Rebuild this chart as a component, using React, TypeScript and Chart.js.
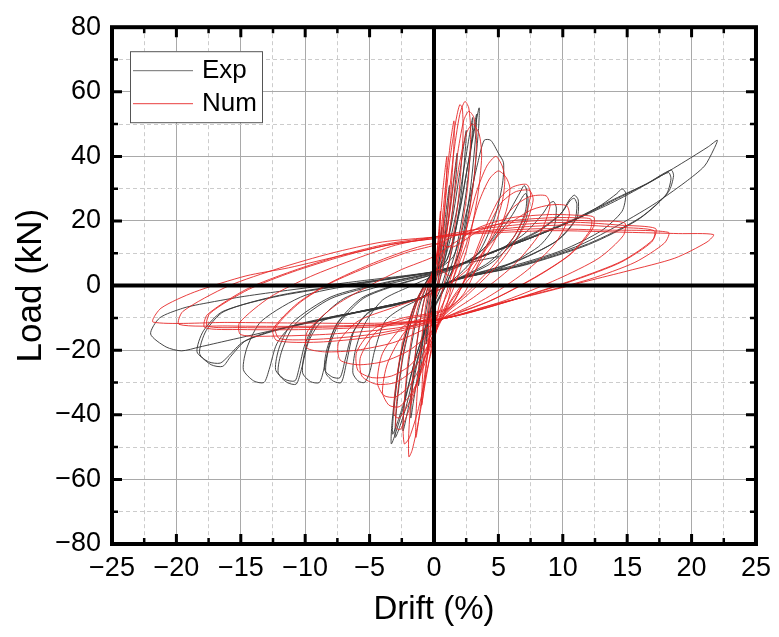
import React, { useEffect, useRef } from 'react';
import { Chart, registerables } from 'chart.js';

Chart.register(...registerables);

type P = [number, number];

// ---------- Exp (experimental) cycles: [drift %, load kN] ----------
const expC01: P[] = [[0,0],[0.3,8],[0.6,18],[0.55,14],[0.3,4],[0,-1],[-0.3,-8],[-0.6,-18],[-0.55,-14],[-0.3,-4],[0,1]];
const expC02: P[] = [[0.5,10],[0.9,22],[1.2,31],[1.1,25],[0.7,10],[0.2,-1],[-0.4,-10],[-0.9,-22],[-1.2,-31],[-1.1,-25],[-0.7,-10],[-0.2,1]];
const expC03: P[] = [[0.5,8],[1.1,20],[1.5,32],[1.8,41],[1.75,36],[1.4,22],[0.8,7],[0.1,-3],[-0.6,-12],[-1.2,-26],[-1.6,-36],[-1.8,-41],[-1.75,-35],[-1.4,-20],[-0.8,-5],[-0.1,3]];
const expC04: P[] = [[0.7,8],[1.4,20],[2.0,35],[2.5,48],[2.45,43],[2.1,28],[1.4,11],[0.5,-1],[-0.4,-9],[-1.2,-22],[-1.9,-36],[-2.4,-45],[-2.35,-39],[-1.9,-22],[-1.1,-6],[-0.2,3]];
const expC05: P[] = [[0.8,8],[1.7,22],[2.4,38],[3.0,52],[2.95,46],[2.5,29],[1.7,11],[0.7,-1],[-0.3,-9],[-1.3,-23],[-2.2,-38],[-3.0,-47],[-2.95,-40],[-2.4,-22],[-1.4,-6],[-0.3,3]];
const expC06: P[] = [[1.0,8],[2.0,24],[2.8,41],[3.5,55],[3.45,48],[3.0,30],[2.1,12],[0.9,0],[-0.2,-9],[-1.4,-22],[-2.4,-38],[-3.3,-49],[-3.25,-42],[-2.7,-24],[-1.6,-7],[-0.3,3]];
const expC07: P[] = [[1.0,8],[2.0,23],[2.7,39],[3.3,53],[3.25,47],[2.8,29],[2.0,11],[0.8,-1],[-0.3,-9],[-1.4,-22],[-2.4,-37],[-3.2,-46],[-3.15,-40],[-2.6,-22],[-1.5,-6],[-0.3,3]];
const expC08: P[] = [[1.5,9],[2.6,24],[3.4,38],[3.9,45],[4.4,45],[5.0,41],[5.4,38],[5.3,31],[4.7,21],[3.6,11],[2.1,4],[0.5,-1],[-1,-4],[-2.5,-7],[-3.8,-11],[-4.6,-20],[-5.0,-27],[-5.4,-30],[-5.9,-29.5],[-6.3,-27],[-6.1,-20],[-5.4,-12],[-4,-4.5],[-2,-0.5],[0,3]];
const expC09: P[] = [[2,6],[3.5,10],[5,17],[6,24],[6.7,29],[7.0,31],[7.2,29.5],[7.1,23],[6.2,15],[4.2,7],[2,2.5],[0,-1],[-1,-3.8],[-3,-6],[-5,-8],[-6.2,-14],[-6.8,-24],[-7.2,-30],[-7.8,-29.6],[-8.4,-27],[-8.2,-20],[-7.4,-12],[-5.5,-4],[-3,0],[0,3.5]];
const expC09b: P[] = [[2,6.2],[3.5,10.2],[5,16],[6.1,22],[6.8,27],[7.1,28.5],[7.3,27],[7.2,21.5],[6.3,14],[4.3,6.6],[2,2.3],[0,-1.1],[-1,-3.9],[-3,-6.1],[-5,-8.2],[-6.3,-14.5],[-6.9,-23],[-7.3,-28.5],[-7.9,-28.3],[-8.5,-26],[-8.3,-19.5],[-7.5,-11.5],[-5.6,-3.8],[-3,0.2],[0,3.6]];
const expC10: P[] = [[2,6.5],[5,11],[7,16],[8.4,22],[9.0,25.5],[9.3,26],[9.5,24],[9.3,18],[8.1,12],[5.2,5.5],[2,2],[0,-1],[-1,-3.8],[-4,-6.8],[-7,-9.5],[-7.9,-15],[-8.5,-25],[-8.9,-30],[-9.6,-29.7],[-10.2,-27],[-10,-20],[-9.2,-12],[-7,-4],[-4,0],[0,3.8]];
const expC11: P[] = [[2,6.5],[5,11],[8,16.5],[9.8,22],[10.5,26.5],[10.9,28],[11.2,26.5],[11.1,21],[9.6,14],[6,7],[2,2.4],[0,-1],[-1,-3.8],[-5,-7.5],[-8.6,-10.8],[-9.7,-17],[-10.3,-26],[-10.7,-30.5],[-11.4,-30],[-12.1,-27],[-11.8,-20],[-10.8,-12],[-8,-4],[-4,0.5],[0,4]];
const expC12: P[] = [[2,6.6],[5,11.2],[8,16.8],[9.9,22.5],[10.6,26.5],[10.9,27],[11.1,25],[10.9,20],[9.4,13.5],[6,6.8],[2,2.3],[0,-1],[-1,-3.8],[-5,-7.6],[-9,-11],[-10,-18],[-10.5,-26],[-10.8,-29.5],[-11.6,-29],[-12.3,-26],[-12,-19],[-11,-11.5],[-8,-3.5],[-4,0.8],[0,4]];
const expC13: P[] = [[2,6.6],[5,11],[8,15.5],[11,20.5],[13,25],[14.2,28.5],[14.6,30],[14.9,28.5],[14.6,23],[13,17],[10,11],[6,6],[2,2.4],[0,-1],[-1,-3.7],[-6,-8.2],[-11,-12.6],[-12.2,-18],[-12.8,-26],[-13.2,-30],[-14.0,-29.5],[-14.8,-26],[-14.5,-19],[-13.4,-11],[-10,-3],[-5,1],[0,4.2]];
const expC14: P[] = [[2,6.6],[5,11],[8,15.5],[11,20.5],[14,26.5],[16.5,31.5],[18.4,35.8],[18.6,34],[18.2,29],[16,21],[12,13],[7,6.5],[2,2.2],[0,-1],[-1,-3.7],[-6,-8.2],[-12,-13.4],[-14.6,-17],[-15.8,-22],[-16.4,-25],[-17.3,-24.5],[-18.2,-21],[-17.7,-14],[-16.3,-8],[-12,-3],[-6,0.8],[0,4.3]];
const expC15: P[] = [[2,6.7],[5,11.2],[8,15.8],[11,20.8],[14,26.8],[16.5,31.5],[18.2,35],[18.4,33],[18,28],[15.8,20.3],[12,12.7],[7,6.3],[2,2.1],[0,-1.2],[-1,-3.9],[-6,-8.4],[-12,-13.6],[-14.8,-17.4],[-16,-22],[-16.6,-24],[-17.5,-23.6],[-18.4,-20.5],[-17.9,-14],[-16.4,-8],[-12,-3.2],[-6,0.6],[0,4.3]];
const expC16: P[] = [[2,6.6],[5,11],[8,15.5],[11,20.5],[14,26],[17,32.5],[19.5,38.5],[21.3,43],[22,45],[21.7,42],[21,37],[19.5,32],[17,25],[14,18],[11,12],[6,5.6],[2,2.2],[0,-1],[-1,-3.7],[-6,-8.2],[-12,-13.4],[-16,-17],[-18.2,-19],[-19.6,-20.2],[-20.8,-19],[-22,-15],[-21.3,-10],[-19.5,-7],[-18.2,-5.8],[-15,-3.5],[-12,-1.8],[-6,1.3],[0,4.3],[2,6.5],[5,9]];

// ---------- Num (numerical) cycles ----------
const numC01: P[] = [[0,0],[0.25,11],[0.5,23],[0.45,17],[0.25,5],[0,-2],[-0.25,-11],[-0.5,-21],[-0.45,-15],[-0.25,-4],[0,2]];
const numC02: P[] = [[0.35,14],[0.7,30],[1.0,40],[0.95,32],[0.65,14],[0.2,-2],[-0.3,-14],[-0.7,-29],[-0.95,-37],[-0.9,-29],[-0.6,-12],[-0.15,3]];
const numC03: P[] = [[0.4,12],[0.9,31],[1.3,45],[1.55,51],[1.55,44],[1.25,26],[0.7,7],[0,-7],[-0.6,-24],[-1.1,-39],[-1.4,-47],[-1.4,-40],[-1.1,-22],[-0.6,-5],[0,6]];
const numC04: P[] = [[0.6,16],[1.2,38],[1.7,51],[2.0,56],[2.2,55],[2.25,46],[1.9,27],[1.2,8],[0.3,-8],[-0.5,-26],[-1.2,-42],[-1.7,-51],[-1.95,-53],[-1.95,-45],[-1.6,-26],[-0.9,-7],[0,6]];
const numC05: P[] = [[0.8,16],[1.5,40],[2.0,53],[2.4,57],[2.7,55],[2.85,47],[2.6,30],[1.8,10],[0.7,-6],[-0.3,-22],[-1.2,-38],[-1.9,-47],[-2.3,-49],[-2.4,-42],[-2.0,-23],[-1.2,-6],[0,5]];
const numC06: P[] = [[1.0,17],[1.8,40],[2.3,51],[2.7,54],[3.1,52],[3.3,45],[3.1,33],[2.4,15],[1.3,0],[0,-12],[-1.0,-26],[-1.9,-38],[-2.6,-44.5],[-2.95,-44],[-2.9,-36],[-2.3,-19],[-1.2,-4],[0.2,5]];
const numC06b: P[] = [[1.1,15],[1.9,36],[2.5,47],[3.0,50],[3.5,47],[3.7,40],[3.4,28],[2.6,12],[1.4,-2],[0.1,-13],[-0.9,-25],[-1.9,-36],[-2.7,-41],[-3.1,-40],[-3.0,-32],[-2.4,-17],[-1.3,-4],[0.3,5]];
const numC07: P[] = [[1.3,3],[2.4,16],[3.3,29],[4.1,37],[4.8,40],[5.3,37],[5.5,33],[5.3,26],[4.4,15],[3.0,5],[1.4,-4],[0.3,-12],[-0.7,-24],[-1.7,-33],[-2.7,-37.5],[-3.5,-37],[-4.0,-33],[-3.6,-24],[-2.2,-14],[-0.7,-10.5],[0.7,-9]];
const numC07b: P[] = [[1.5,2],[2.6,14],[3.5,26],[4.3,33],[5.0,35.5],[5.6,33.5],[5.9,30],[5.6,23],[4.6,13],[3.1,4],[1.4,-4.5],[0.3,-13],[-0.8,-23],[-1.9,-31],[-3.0,-34.5],[-3.9,-34],[-4.4,-30],[-4.0,-21],[-2.5,-13],[-0.8,-10],[0.8,-8.5]];
const numC08: P[] = [[1.8,-3],[3.0,8],[4.1,19],[5.1,27],[6.1,30.5],[7.2,31.3],[7.5,28],[6.9,20],[5,8],[2.6,-2],[0.8,-9],[-0.4,-18],[-1.6,-26],[-3.0,-30],[-4.5,-30.5],[-5.6,-28],[-5.7,-22],[-4.4,-14],[-2.3,-10.5],[-0.3,-9],[1.2,-7]];
const numC08b: P[] = [[1.9,-2.5],[3.1,8],[4.2,18],[5.2,25.5],[6.3,29],[7.4,29.5],[7.7,26.5],[7.1,19],[5.2,7.5],[2.7,-2.5],[0.8,-9.2],[-0.5,-17],[-1.8,-24.5],[-3.3,-28],[-4.8,-28.5],[-5.9,-26.3],[-6.0,-20.5],[-4.6,-13.2],[-2.4,-10],[-0.3,-8.6],[1.3,-6.5]];
const numC09: P[] = [[2.4,-2],[3.6,8],[4.9,17.5],[6.1,24],[7.4,27.5],[8.7,27.8],[9.0,24.5],[8.2,16],[6.1,6],[3.3,-3],[0.9,-9.5],[-0.4,-15],[-1.9,-20],[-3.9,-23.5],[-5.9,-24.5],[-7.3,-23],[-7.4,-17.5],[-5.9,-11],[-3.3,-7],[-0.8,-3.5],[1,0]];
const numC10: P[] = [[2.6,5],[4.4,13],[6,19.5],[7.6,23.5],[9.1,25],[10.3,24.7],[10.5,21.5],[9.4,13],[7,4],[4,-4],[1,-9.7],[-1,-14],[-3.2,-17.7],[-6,-20],[-8.5,-20.5],[-9.9,-19.2],[-9.8,-14],[-7.6,-6],[-5,0],[-2.5,5],[0,9]];
const numC11: P[] = [[1.5,13],[3.5,18],[6,21],[9,22],[11,21.8],[12.4,21.2],[12.3,17.5],[10.7,10],[8,2.8],[4.5,-4.5],[1,-9.8],[-1.5,-13],[-5,-16],[-9,-17.5],[-12.2,-17],[-12.5,-13.5],[-10.6,-5.5],[-8,1],[-5,6.5],[-2,11],[0,13]];
const numC11b: P[] = [[1.5,12],[3.5,17],[6,20],[9,21],[11,21],[12.2,20.5],[12.1,17],[10.5,9.5],[7.8,2.5],[4.4,-4.6],[1,-9.5],[-1.5,-12.5],[-5,-15.2],[-9,-16.6],[-12,-16.4],[-12.3,-13],[-10.4,-5.2],[-8,0.8],[-5,6],[-2,10.4],[0,12.5]];
const numC12: P[] = [[2,16],[5,19],[9,20.3],[12.5,20],[14.8,19.4],[14.7,15.5],[12.8,8.5],[9.6,2],[5.6,-4.5],[1,-10],[-3,-13.2],[-8,-15],[-12,-15.6],[-15,-15.2],[-15.1,-11.5],[-12.7,-3.5],[-9.6,2.8],[-6,8.4],[-3,12.5],[0,15]];
const numC13: P[] = [[3,17.2],[7,19],[11,19.6],[14.5,18.7],[17.2,17.7],[17.0,14.2],[14.6,7.6],[11,2],[6,-4.5],[1,-10],[-4,-12.6],[-10,-13.6],[-15,-13.6],[-17.8,-13],[-17.6,-9],[-14.5,-1],[-11,4.5],[-7,9.6],[-3.5,13],[0,15]];
const numC13b: P[] = [[3,16.5],[7,18.2],[11,18.8],[14.5,18],[17.1,17],[16.9,13.5],[14.5,7.2],[11,1.8],[6,-4.6],[1,-10],[-4,-12.2],[-10,-13],[-15,-13],[-17.6,-12.5],[-17.4,-8.6],[-14.4,-1.2],[-11,4.2],[-7,9.2],[-3.5,12.6],[0,14.6]];
const numC14: P[] = [[3,16.3],[8,17.6],[13,17.2],[18.2,16.5],[17.9,13.2],[15.6,7.2],[12.1,2],[7,-3.5],[1.5,-9.6],[-4,-12],[-10,-12.6],[-16,-12.5],[-19.8,-12],[-19.5,-8],[-16,-0.2],[-12,5.4],[-8,10],[-4,13.5],[0,15]];
const numC15: P[] = [[3,16],[9,17],[15,16.5],[19,16.1],[21.7,15.8],[21.2,13.5],[18.7,8.5],[15,4.5],[12,1.5],[8,-2.6],[4,-6.5],[1,-10],[-4,-11.6],[-10,-11.6],[-16,-11.4],[-21.8,-11.3],[-21.2,-7],[-18.6,-2],[-14.6,3],[-11.3,5.5],[-7,9.5],[-3,13],[0,14.5]];

const expCycles: P[][] = [expC01, expC02, expC03, expC04, expC05, expC06, expC07, expC08, expC09, expC09b, expC10, expC11, expC12, expC13, expC14, expC15, expC16];
const numCycles: P[][] = [numC01, numC02, numC03, numC04, numC05, numC06, numC06b, numC07, numC07b, numC08, numC08b, numC09, numC10, numC11, numC11b, numC12, numC13, numC13b, numC14, numC15];

// ---------- axes ----------
const xMin = -25, xMax = 25, xStep = 2.5, xLabelEvery = 5;
const yMin = -80, yMax = 80, yStep = 10, yLabelEvery = 20;
const seriesNames = ['Exp', 'Num'];
const xTitle = 'Drift (%)';
const yTitle = 'Load (kN)';

const EXP_COLOR = 'rgba(55,55,55,0.92)';
const NUM_COLOR = 'rgba(230,35,35,0.88)';
const EXP_LEGEND = 'rgba(110,110,110,1)';
const FONT = "'Liberation Sans', Arial, sans-serif";

const toPts = (cycles: P[][]) => cycles.flat().map(([x, y]) => ({ x, y }));
const isMajor = (v: number, every: number) => Math.abs(v / every - Math.round(v / every)) < 1e-6;
const fmt = (v: number) => String(v).replace('-', '\u2212');

const framePlugin = {
  id: 'framePlugin',
  afterDatasetsDraw(chart: any) {
    const { ctx, chartArea, scales } = chart;
    const { left, right, top, bottom } = chartArea;
    const xs = scales.x, ys = scales.y;
    ctx.save();
    ctx.strokeStyle = '#000';
    ctx.lineCap = 'butt';
    ctx.lineWidth = 4;
    const x0 = xs.getPixelForValue(0), y0 = ys.getPixelForValue(0);
    ctx.beginPath();
    ctx.moveTo(x0, top); ctx.lineTo(x0, bottom);
    ctx.moveTo(left, y0); ctx.lineTo(right, y0);
    ctx.stroke();
    for (let v = xMin + xStep; v < xMax - 1e-9; v += xStep) {
      const px = xs.getPixelForValue(v);
      const major = isMajor(v, xLabelEvery);
      const len = major ? 10 : 6;
      ctx.lineWidth = major ? 3 : 2.5;
      ctx.beginPath();
      ctx.moveTo(px, bottom); ctx.lineTo(px, bottom - len);
      ctx.moveTo(px, top); ctx.lineTo(px, top + len);
      ctx.stroke();
    }
    for (let v = yMin + yStep; v < yMax - 1e-9; v += yStep) {
      const py = ys.getPixelForValue(v);
      const major = isMajor(v, yLabelEvery);
      const len = major ? 10 : 6;
      ctx.lineWidth = major ? 3 : 2.5;
      ctx.beginPath();
      ctx.moveTo(left, py); ctx.lineTo(left + len, py);
      ctx.moveTo(right, py); ctx.lineTo(right - len, py);
      ctx.stroke();
    }
    ctx.lineWidth = 4;
    ctx.strokeRect(left, top, right - left, bottom - top);
    ctx.restore();
  },
  afterDraw(chart: any) {
    const { ctx, chartArea } = chart;
    const bx = chartArea.left + 18, by = chartArea.top + 24, bw = 132, bh = 71;
    ctx.save();
    ctx.fillStyle = '#fff';
    ctx.fillRect(bx, by, bw, bh);
    ctx.strokeStyle = '#555';
    ctx.lineWidth = 1;
    ctx.strokeRect(bx + 0.5, by + 0.5, bw, bh);
    const colors = [EXP_LEGEND, NUM_COLOR];
    const rows = [by + 19, by + 52];
    ctx.font = `26px ${FONT}`;
    ctx.textBaseline = 'middle';
    ctx.textAlign = 'left';
    seriesNames.forEach((name, i) => {
      ctx.strokeStyle = colors[i];
      ctx.lineWidth = 1;
      ctx.beginPath();
      ctx.moveTo(bx + 3, rows[i] + 0.5);
      ctx.lineTo(bx + 63, rows[i] + 0.5);
      ctx.stroke();
      ctx.fillStyle = '#000';
      ctx.fillText(name, bx + 72, rows[i] + 1);
    });
    ctx.restore();
  },
};

export default function App() {
  const ref = useRef<HTMLCanvasElement | null>(null);
  useEffect(() => {
    if (!ref.current) return;
    const chart = new Chart(ref.current, {
      type: 'scatter',
      data: {
        datasets: [
          {
            label: seriesNames[1],
            data: toPts(numCycles),
            borderColor: NUM_COLOR,
            backgroundColor: NUM_COLOR,
            borderWidth: 1,
            showLine: true,
            pointRadius: 0,
            tension: 0.25,
            order: 1,
          },
          {
            label: seriesNames[0],
            data: toPts(expCycles),
            borderColor: EXP_COLOR,
            backgroundColor: EXP_COLOR,
            borderWidth: 1,
            showLine: true,
            pointRadius: 0,
            tension: 0.25,
            order: 2,
          },
        ],
      },
      options: {
        responsive: false,
        animation: false,
        layout: { padding: { top: 18, right: 16, left: 0, bottom: 0 } },
        plugins: { legend: { display: false }, tooltip: { enabled: false } },
        scales: {
          x: {
            type: 'linear',
            min: xMin,
            max: xMax,
            afterFit: (s: any) => { s.height = 93; },
            ticks: {
              stepSize: xStep,
              autoSkip: false,
              maxRotation: 0,
              padding: 8,
              color: '#000',
              font: { family: FONT, size: 27 },
              callback: (v: any) => (isMajor(Number(v), xLabelEvery) ? fmt(Number(v)) : ''),
            },
            grid: {
              drawTicks: false,
              lineWidth: 1,
              color: (c: any) => (isMajor(c.tick?.value ?? 0, xLabelEvery) ? '#a9a9a9' : '#cccccc'),
            },
            border: {
              display: false,
              dash: (c: any) => (isMajor(c.tick?.value ?? 0, xLabelEvery) ? [] : [4, 3]),
            },
            title: {
              display: true,
              text: xTitle,
              color: '#000',
              font: { family: FONT, size: 33 },
              padding: { top: 0, bottom: 7 },
            },
          },
          y: {
            type: 'linear',
            min: yMin,
            max: yMax,
            afterFit: (s: any) => { s.width = 112; },
            ticks: {
              stepSize: yStep,
              autoSkip: false,
              padding: 11,
              color: '#000',
              font: { family: FONT, size: 27 },
              callback: (v: any) => (isMajor(Number(v), yLabelEvery) ? fmt(Number(v)) : ''),
            },
            grid: {
              drawTicks: false,
              lineWidth: 1,
              color: (c: any) => (isMajor(c.tick?.value ?? 0, yLabelEvery) ? '#a9a9a9' : '#cccccc'),
            },
            border: {
              display: false,
              dash: (c: any) => (isMajor(c.tick?.value ?? 0, yLabelEvery) ? [] : [4, 3]),
            },
            title: {
              display: true,
              text: yTitle,
              color: '#000',
              font: { family: FONT, size: 35 },
              padding: { top: 10, bottom: 0 },
            },
          },
        },
      },
      plugins: [framePlugin],
    } as any);
    return () => chart.destroy();
  }, []);
  return (
    <div style={{ position: 'absolute', left: 0, top: 0, width: 779, height: 637, background: '#fff' }}>
      <canvas ref={ref} width={779} height={637} style={{ display: 'block', width: 779, height: 637 }} />
    </div>
  );
}
